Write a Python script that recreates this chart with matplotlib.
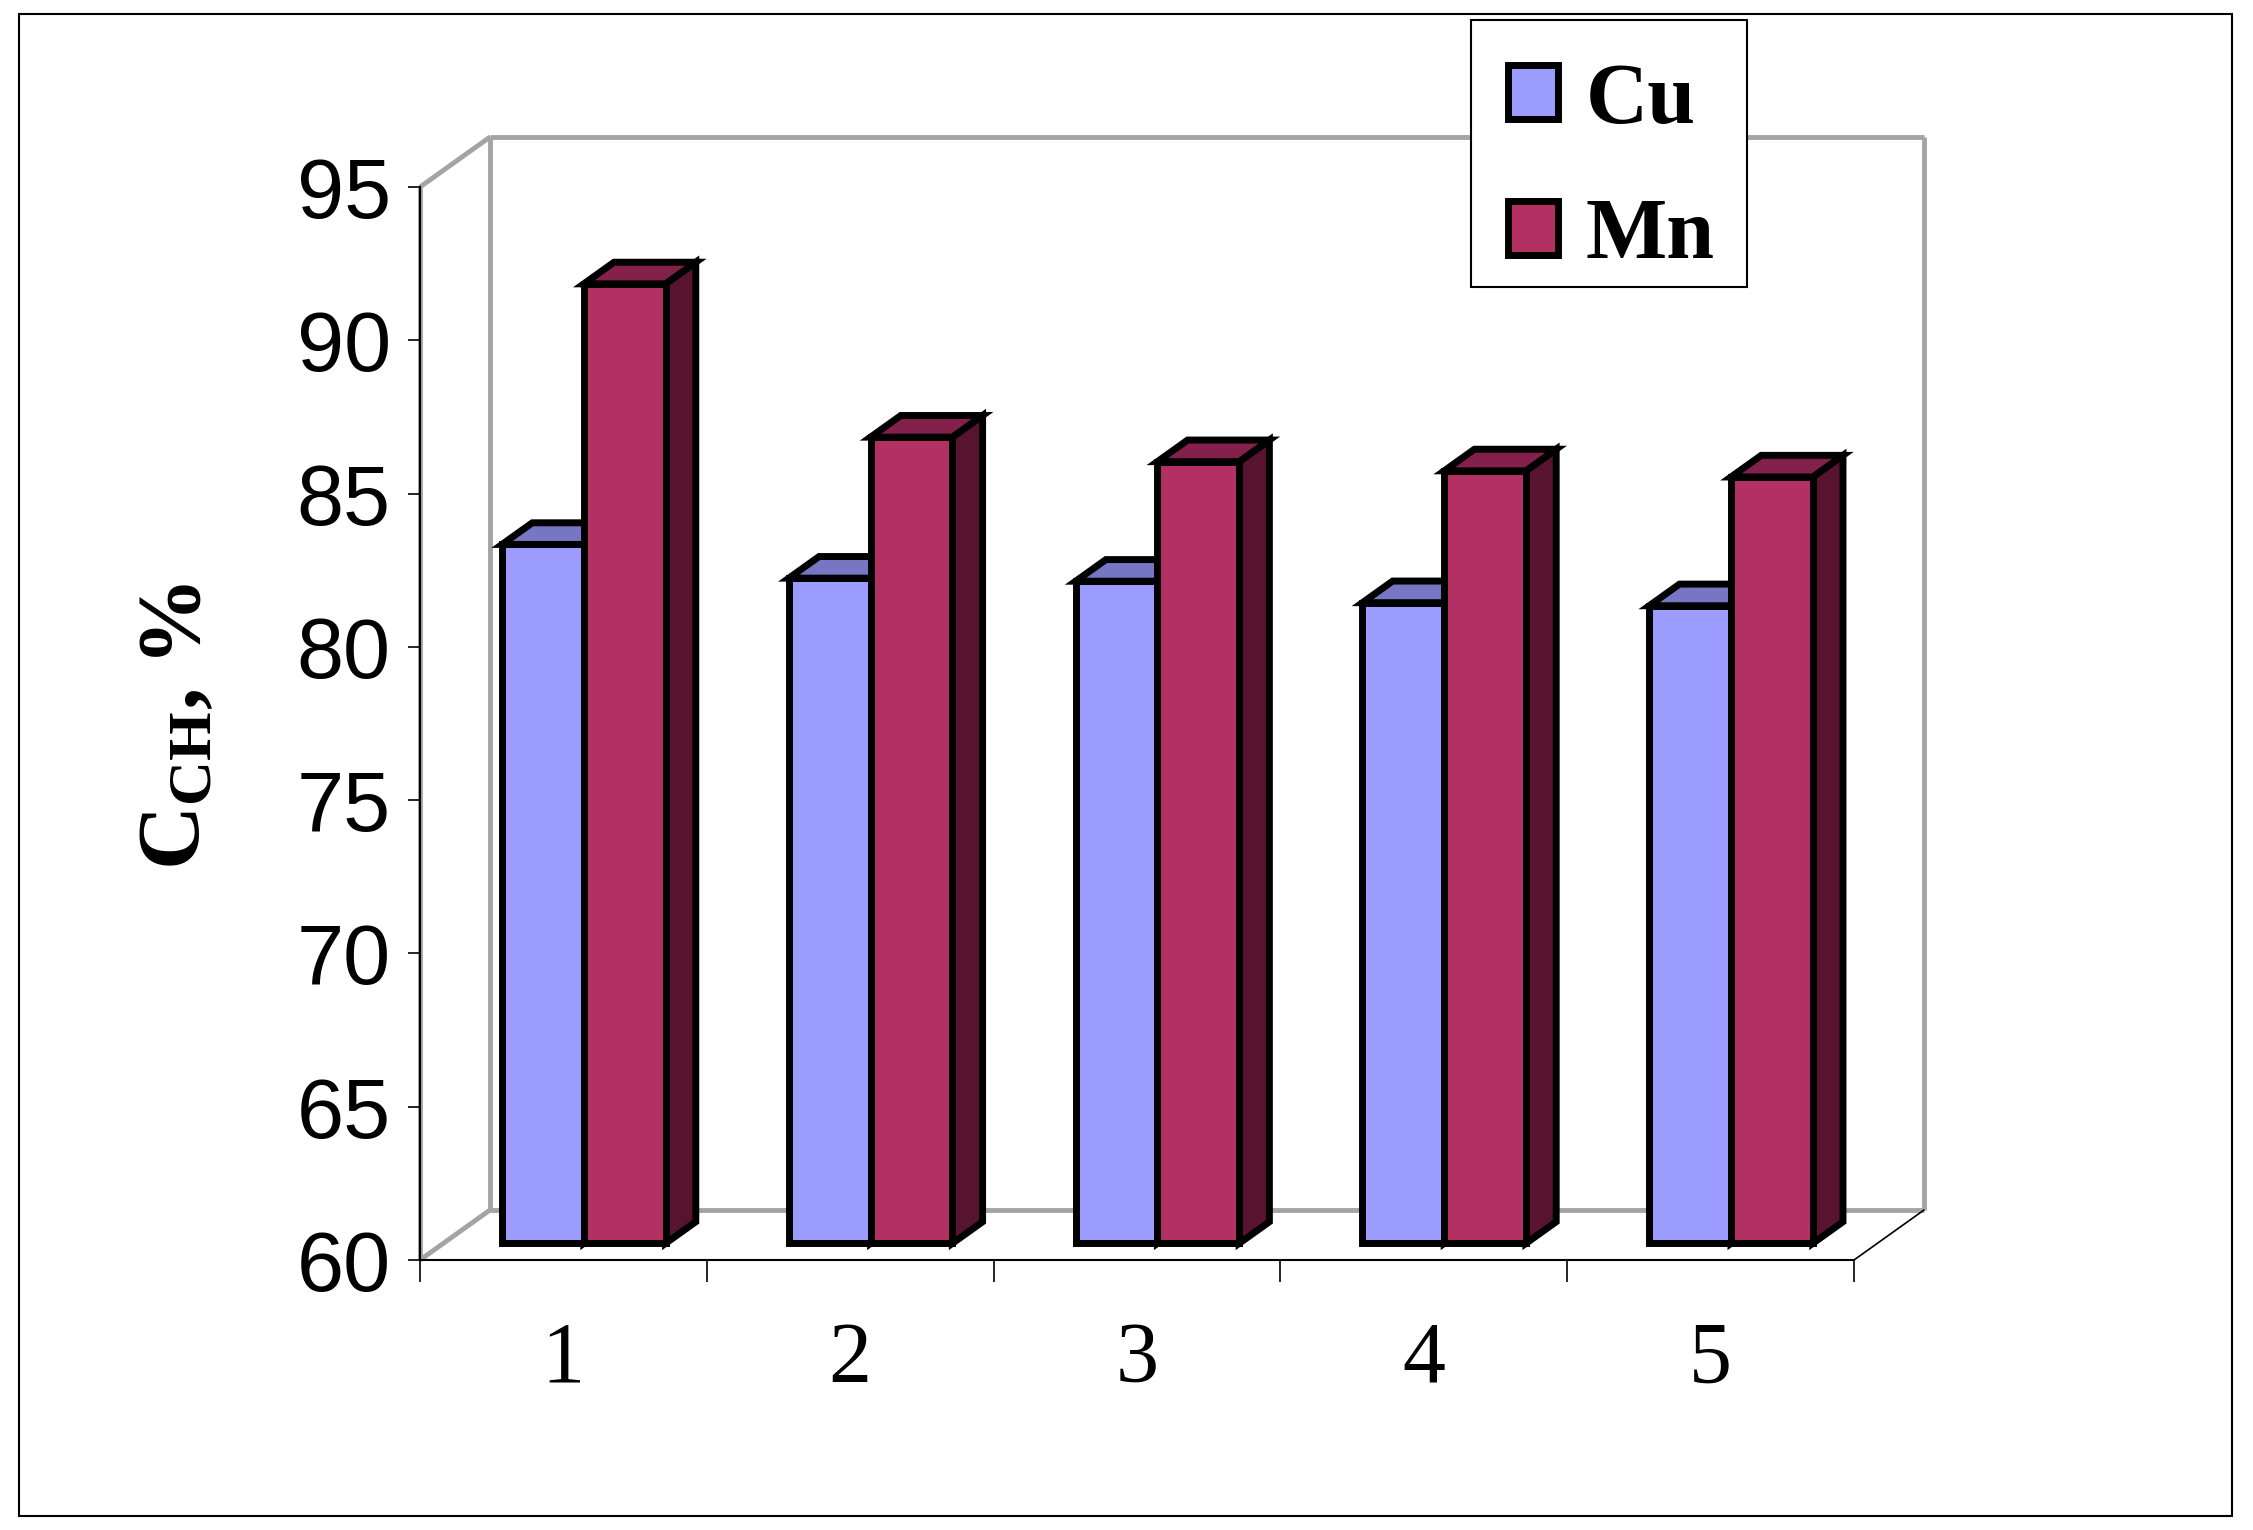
import matplotlib
matplotlib.use('Agg')
import matplotlib.pyplot as plt
from matplotlib.patches import Polygon, Rectangle, Patch

# data
categories = ['1', '2', '3', '4', '5']
cu_values = [82.8, 81.7, 81.6, 80.9, 80.8]
mn_values = [91.3, 86.3, 85.5, 85.2, 85.0]
y_ticks = [60, 65, 70, 75, 80, 85, 90, 95]
series_names = ['Cu', 'Mn']

CU_FRONT, CU_TOP, CU_SIDE = '#9C9CFF', '#7676C4', '#4E4E8A'
MN_FRONT, MN_TOP, MN_SIDE = '#B23062', '#84204C', '#58142F'
WALL = '#A4A4A4'

plt.rcParams['mathtext.fontset'] = 'custom'
plt.rcParams['mathtext.rm'] = 'Liberation Serif:bold'
plt.rcParams['mathtext.it'] = 'Liberation Serif:italic:bold'
plt.rcParams['mathtext.bf'] = 'Liberation Serif:bold'

W, H = 2253, 1530
fig = plt.figure(figsize=(W / 100, H / 100), dpi=100)
ax = fig.add_axes([420 / W, 1 - 1260 / H, (1854 - 420) / W, (1260 - 187) / H])
ax.set_xlim(0.5, 5.5)
ax.set_ylim(60, 95)
ax.patch.set_visible(False)

# oblique depth offset (back wall relative to front plane), in data units
DX, DY = 0.2455, 1.64
d0, d1 = 0.33, 0.76   # bar depth span
bw = 0.285            # bar width
base = 60

# walls and floor
def seg(x, y, **kw):
    ax.plot(x, y, clip_on=False, solid_capstyle='butt', **kw)

seg([0.5, 0.5], [60, 95], color=WALL, lw=3.5, zorder=1)
seg([0.5, 0.5 + DX], [95, 95 + DY], color=WALL, lw=3.5, zorder=1)
seg([0.5, 0.5 + DX], [60, 60 + DY], color=WALL, lw=3.5, zorder=1)
seg([0.5 + DX] * 2, [60 + DY, 95 + DY], color=WALL, lw=3.5, zorder=1)
seg([5.5 + DX] * 2, [60 + DY, 95 + DY], color=WALL, lw=3.5, zorder=1)
seg([0.5 + DX, 5.5 + DX], [95 + DY] * 2, color=WALL, lw=3.5, zorder=1)
seg([0.5 + DX, 5.5 + DX], [60 + DY] * 2, color=WALL, lw=3.5, zorder=1)
seg([5.5, 5.5 + DX], [60, 60 + DY], color='black', lw=1.2, zorder=1)


def bar3d(x0, v, front, top, side):
    xa, xb = x0 + d0 * DX, x0 + bw + d0 * DX
    xc, xd = x0 + d1 * DX, x0 + bw + d1 * DX
    ya, yb = d0 * DY, d1 * DY
    kw = dict(edgecolor='black', linewidth=5, joinstyle='miter', clip_on=False, zorder=3)
    ax.add_patch(Polygon([(xb, base + ya), (xd, base + yb), (xd, v + yb), (xb, v + ya)],
                         facecolor=side, **kw))
    ax.add_patch(Polygon([(xa, v + ya), (xb, v + ya), (xd, v + yb), (xc, v + yb)],
                         facecolor=top, **kw))
    ax.add_patch(Polygon([(xa, base + ya), (xb, base + ya), (xb, v + ya), (xa, v + ya)],
                         facecolor=front, **kw))


for i, (cu, mn) in enumerate(zip(cu_values, mn_values)):
    x0 = i + 0.5 + (1 - 2 * bw) / 2 - 0.01
    bar3d(x0, cu, CU_FRONT, CU_TOP, CU_SIDE)
    bar3d(x0 + bw, mn, MN_FRONT, MN_TOP, MN_SIDE)

# axes, ticks
for s in ['top', 'right']:
    ax.spines[s].set_visible(False)
for s in ['left', 'bottom']:
    ax.spines[s].set_linewidth(1.5)
    ax.spines[s].set_zorder(2)

ax.set_yticks(y_ticks)
ax.set_yticklabels([str(t) for t in y_ticks], fontfamily='Liberation Sans', fontsize=61)
ax.tick_params(axis='y', length=9, width=1.2, pad=12)

ax.set_xticks(range(1, 6))
ax.set_xticklabels(categories, fontfamily='Liberation Serif', fontsize=62)
ax.set_xticks([0.5 + k for k in range(6)], minor=True)
ax.tick_params(axis='x', which='major', length=0, pad=44)
ax.tick_params(axis='x', which='minor', length=16, width=1.2)

fig.text(178 / W, 1 - 726 / H, r'$\mathrm{C_{CH}}$, %', rotation=90, ha='center', va='center',
         fontsize=64, fontfamily='Liberation Serif', fontweight='bold')

# legend box, then the legend entries without their own frame
fig.add_artist(Rectangle((1471 / W, 1 - 287 / H), (1747 - 1471) / W, (287 - 20) / H,
                         transform=fig.transFigure, facecolor='white', edgecolor='black',
                         lw=1.5, zorder=9))
handles = [Patch(facecolor=CU_FRONT, edgecolor='black', linewidth=5),
           Patch(facecolor=MN_FRONT, edgecolor='black', linewidth=5)]
leg = fig.legend(handles, series_names, loc='center left', bbox_to_anchor=(1508 / W, 1 - 170 / H),
                 frameon=False,
                 prop={'family': 'Liberation Serif', 'weight': 'bold', 'size': 62},
                 handlelength=0.58, handleheight=0.58, handletextpad=0.32,
                 labelspacing=0.66, borderpad=0, borderaxespad=0)
leg.set_zorder(10)

fig.add_artist(Rectangle((19 / W, 1 - 1516 / H), (2232 - 19) / W, (1516 - 14) / H,
                         transform=fig.transFigure, fill=False, lw=1.5, edgecolor='black'))

fig.savefig('out.png', dpi=100)
